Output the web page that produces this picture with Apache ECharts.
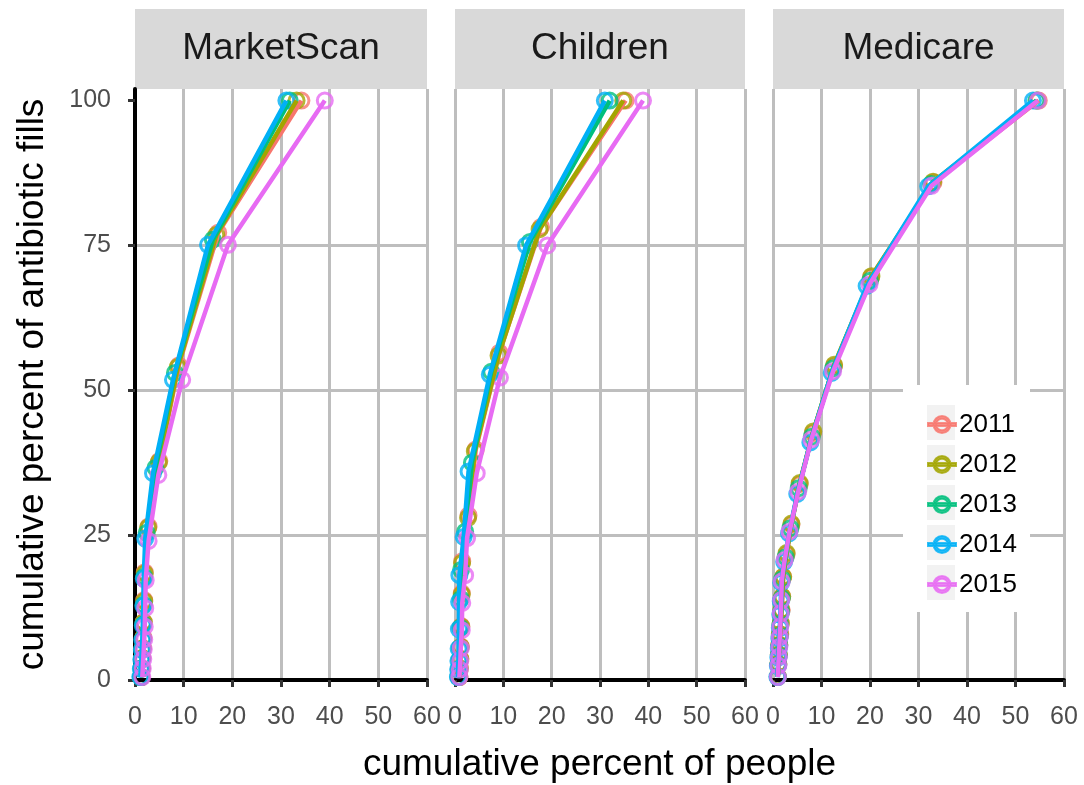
<!DOCTYPE html>
<html>
<head>
<meta charset="utf-8">
<script src="https://cdn.jsdelivr.net/npm/echarts@6/dist/echarts.min.js"></script>
<style>
  html, body { margin: 0; padding: 0; background: #fff; }
  #chart { width: 1084px; height: 785px; }
</style>
</head>
<body>
<div id="chart"></div>
<script>
// Facet labels, series names and axis ticks
const panels = ['MarketScan', 'Children', 'Medicare'];
const years = ['2011', '2012', '2013', '2014', '2015'];
const xTicks = [0, 10, 20, 30, 40, 50, 60];
const yTicks = [0, 25, 50, 75, 100];

// [cumulative % of people, cumulative % of antibiotic fills]
const marketScan2011 = [[1.3,0.5],[1.4,2],[1.5,3.8],[1.6,5.5],[1.7,7.3],[1.8,10],[1.9,13.8],[2.0,18.6],[2.8,26.5],[5.0,37.8],[9.0,54.3],[17.1,77.2],[34.2,100]];
const marketScan2012 = [[1.3,0.5],[1.4,2],[1.5,3.8],[1.6,5.5],[1.7,7.3],[1.8,10],[1.9,13.6],[2.0,18.4],[2.7,26.3],[4.9,37.6],[8.8,54],[16.7,76.8],[33.2,100]];
const marketScan2013 = [[1.2,0.5],[1.3,2],[1.4,3.6],[1.5,5.3],[1.6,7],[1.7,9.6],[1.8,13],[1.9,17.8],[2.4,25.4],[4.2,36.6],[8.2,53],[16.0,76],[31.8,100]];
const marketScan2014 = [[1.1,0.5],[1.2,1.9],[1.3,3.5],[1.4,5.2],[1.5,6.9],[1.6,9.4],[1.7,12.8],[1.8,17.5],[2.1,24.4],[3.7,35.7],[7.8,51.8],[15.0,75.1],[31.1,100]];
const marketScan2015 = [[1.5,0.5],[1.6,2],[1.7,3.6],[1.8,5.3],[1.9,7],[2.0,9.2],[2.1,12.4],[2.2,17.2],[2.8,24],[4.8,35.4],[9.7,51.8],[19.1,75.1],[39.0,100]];

const children2011 = [[0.9,0.5],[1.0,2],[1.1,3.7],[1.2,5.8],[1.3,9.3],[1.4,15],[1.5,20.5],[2.8,28.4],[4.3,39.8],[9.2,56.5],[17.8,78.2],[35.3,100]];
const children2012 = [[0.9,0.5],[1.0,2],[1.1,3.6],[1.2,5.7],[1.3,9.2],[1.4,14.8],[1.45,20.2],[2.7,28],[4.1,39.5],[9.0,56],[17.5,77.8],[34.8,100]];
const children2013 = [[0.7,0.5],[0.8,1.9],[0.9,3.4],[1.0,5.5],[1.1,9],[1.2,14],[1.25,19],[2.1,25.6],[3.5,37.5],[7.5,53.2],[15.5,75.6],[32.0,100]];
const children2014 = [[0.6,0.5],[0.65,1.8],[0.7,3.3],[0.75,5.4],[0.8,8.8],[0.85,13.5],[0.9,18.1],[1.8,24.7],[2.8,36],[7.2,52.7],[14.7,75],[31.0,100]];
const children2015 = [[0.9,0.5],[1.0,1.8],[1.1,3.3],[1.2,5.5],[1.4,8.6],[1.5,13.3],[2.1,18.1],[2.5,24.5],[4.5,35.7],[9.3,52.2],[19.1,75],[38.9,100]];

const medicare2011 = [[1.0,0.6],[1.1,2.8],[1.2,4.4],[1.3,6.1],[1.5,7.9],[1.6,9.8],[1.8,12.1],[1.9,14.4],[2.1,17.8],[2.8,21.7],[3.8,26.8],[5.5,33.8],[8.2,42.6],[12.6,54.2],[20.2,69.5],[33.1,85.9],[54.8,100]];
const medicare2012 = [[1.0,0.6],[1.1,2.8],[1.2,4.4],[1.3,6.1],[1.4,7.9],[1.6,9.8],[1.7,12.1],[1.9,14.4],[2.1,17.8],[2.8,21.9],[3.8,27],[5.5,34],[8.3,42.9],[12.6,54.4],[20.3,69.7],[33.0,86],[54.5,100]];
const medicare2013 = [[1.0,0.5],[1.1,2.6],[1.2,4.2],[1.3,5.9],[1.4,7.6],[1.5,9.5],[1.7,11.8],[1.8,14.1],[1.9,17.4],[2.6,21.2],[3.6,26.2],[5.3,33.1],[8.0,42],[12.4,53.8],[20.0,68.9],[32.6,85.6],[54.3,100]];
const medicare2014 = [[0.9,0.5],[1.0,2.4],[1.1,3.9],[1.2,5.5],[1.3,7.2],[1.4,9],[1.5,11.3],[1.6,13.6],[1.7,16.8],[2.3,20.4],[3.3,25.3],[5.0,32.1],[7.7,41],[12.1,53],[19.3,68],[32.0,85.2],[53.6,100]];
const medicare2015 = [[1.0,0.5],[1.1,2.5],[1.2,4],[1.3,5.7],[1.4,7.4],[1.5,9.2],[1.6,11.5],[1.7,13.8],[1.8,17],[2.4,20.7],[3.4,25.6],[5.2,32.5],[7.9,41.5],[12.4,53.3],[19.9,68.3],[32.7,85.3],[54.6,100]];

const panelData = [
  [marketScan2011, marketScan2012, marketScan2013, marketScan2014, marketScan2015],
  [children2011, children2012, children2013, children2014, children2015],
  [medicare2011, medicare2012, medicare2013, medicare2014, medicare2015]
];

const colors = ['#F8766D', '#A3A500', '#00BF7D', '#00B0F6', '#E76BF3'];
const FONT = 'Liberation Sans';

// panel geometry
const panelBoxes = [
  { left: 135, width: 292 },
  { left: 455, width: 290 },
  { left: 773, width: 291 }
];
const plotTop = 89, plotBottom = 680;

const grids = panelBoxes.map(p => ({
  left: p.left, width: p.width, top: plotTop, height: plotBottom - plotTop
}));

const xAxes = panelBoxes.map((p, i) => ({
  type: 'value', gridIndex: i, min: 0, max: 60, interval: 10, z: 2,
  axisLine: { show: true, onZero: false, lineStyle: { color: '#000', width: 4 } },
  axisTick: { show: true, length: 7, lineStyle: { color: '#333', width: 3 } },
  axisLabel: { show: true, color: '#4d4d4d', fontSize: 25, fontFamily: FONT, margin: 25,
               showMinLabel: true, showMaxLabel: true, customValues: xTicks },
  splitLine: { show: true, showMinLine: i !== 0, showMaxLine: true,
               lineStyle: { color: '#bebebe', width: 3 } }
}));

const yAxes = panelBoxes.map((p, i) => ({
  type: 'value', gridIndex: i, min: 0, max: 102, interval: 25, z: 1,
  axisLine: { show: i === 0, onZero: false, lineStyle: { color: '#000', width: 4 } },
  axisTick: { show: i === 0, length: 7, lineStyle: { color: '#333', width: 3 }, customValues: yTicks },
  axisLabel: { show: i === 0, color: '#4d4d4d', fontSize: 25, fontFamily: FONT, margin: 24,
               customValues: yTicks },
  splitLine: { show: true, showMinLine: false, showMaxLine: false,
               lineStyle: { color: '#bebebe', width: 3 } }
}));

const series = [];
panelData.forEach((group, pi) => {
  group.forEach((pts, yi) => {
    series.push({
      name: years[yi], type: 'scatter', xAxisIndex: pi, yAxisIndex: pi,
      data: pts, symbol: 'circle', symbolSize: 15, z: 3, silent: true,
      itemStyle: { color: 'rgba(0,0,0,0)', borderColor: colors[yi], borderWidth: 3 }
    });
  });
  group.forEach((pts, yi) => {
    series.push({
      name: years[yi], type: 'line', xAxisIndex: pi, yAxisIndex: pi,
      data: pts, showSymbol: false, z: 4, silent: true,
      lineStyle: { color: colors[yi], width: 4.5 },
      itemStyle: { color: colors[yi] }
    });
  });
});

// legend key: ring with a horizontal stroke through it (28 x 18 box)
const keyIcon = 'path://M5.5,9 A8.5,8.5 0 1,0 22.5,9 A8.5,8.5 0 1,0 5.5,9 Z ' +
                'M8.2,9 A5.8,5.8 0 1,1 19.8,9 A5.8,5.8 0 1,1 8.2,9 Z ' +
                'M0,7.5 L0,10.5 L28,10.5 L28,7.5 Z';

const graphics = [];
// facet strips
panelBoxes.forEach((p, i) => {
  graphics.push({
    type: 'rect', z: 1, silent: true,
    shape: { x: p.left, y: 9, width: p.width, height: plotTop - 9 },
    style: { fill: '#d9d9d9' }
  });
  graphics.push({
    type: 'text', z: 2, silent: true, x: p.left + p.width / 2, y: 49,
    style: { text: panels[i], fontSize: 37, fontFamily: FONT, fill: '#1a1a1a',
             textAlign: 'center', textVerticalAlign: 'middle' }
  });
});
// legend panel and key backgrounds
graphics.push({
  type: 'rect', z: 5, silent: true,
  shape: { x: 903, y: 385, width: 127, height: 227 }, style: { fill: '#fff' }
});
years.forEach((y, i) => {
  graphics.push({
    type: 'rect', z: 6, silent: true,
    shape: { x: 927, y: 405 + 40 * i, width: 28, height: 35 }, style: { fill: '#f2f2f2' }
  });
});
// axis titles
graphics.push({
  type: 'text', z: 2, silent: true, x: 599.5, y: 765,
  style: { text: 'cumulative percent of people', fontSize: 37, fontFamily: FONT, fill: '#000',
           textAlign: 'center', textVerticalAlign: 'middle' }
});
graphics.push({
  type: 'text', z: 2, silent: true, x: 33, y: 384.5, rotation: Math.PI / 2,
  style: { text: 'cumulative percent of antibiotic fills', fontSize: 37, fontFamily: FONT, fill: '#000',
           textAlign: 'center', textVerticalAlign: 'middle' }
});

const chart = echarts.init(document.getElementById('chart'), null, { renderer: 'canvas' });
chart.setOption({
  animation: false,
  backgroundColor: '#fff',
  grid: grids,
  xAxis: xAxes,
  yAxis: yAxes,
  legend: {
    orient: 'vertical', left: 927, top: 411.5, padding: 0, z: 10,
    itemWidth: 28, itemHeight: 18, itemGap: 14, selectedMode: false,
    textStyle: { fontSize: 26, fontFamily: FONT, color: '#000', padding: [0, 0, 0, -2] },
    data: years.map((y, i) => ({ name: y, icon: keyIcon, itemStyle: { color: colors[i] } }))
  },
  graphic: graphics,
  series: series
});
</script>
</body>
</html>
